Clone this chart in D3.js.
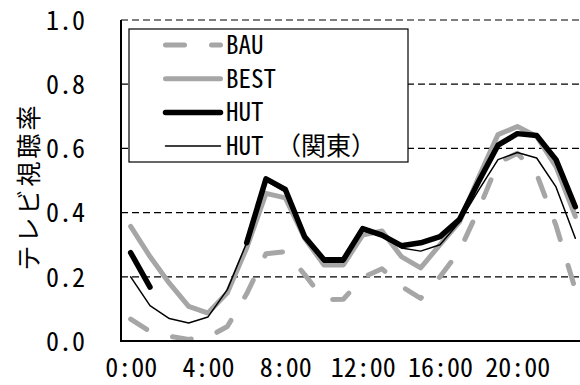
<!DOCTYPE html>
<html>
<head>
<meta charset="utf-8">
<script src="https://cdn.jsdelivr.net/npm/d3@7"></script>
<style>
  body { margin: 0; background: #fff; overflow: hidden; }
  svg { display: block; font-family: "Noto Sans Mono CJK JP", "Noto Sans CJK JP", sans-serif; }
</style>
</head>
<body>
<script>
// categories and values
var hours = ["0:00", "1:00", "2:00", "3:00", "4:00", "5:00", "6:00", "7:00", "8:00", "9:00", "10:00", "11:00",
    "12:00", "13:00", "14:00", "15:00", "16:00", "17:00", "18:00", "19:00", "20:00", "21:00", "22:00", "23:00"];
var xTicks = ["0:00", "4:00", "8:00", "12:00", "16:00", "20:00"];
var yTicks = [0, 0.2, 0.4, 0.6, 0.8, 1.0];

var bau = [0.068, 0.03, 0.015, 0.005, 0.012, 0.045, 0.147, 0.272, 0.278, 0.207, 0.129, 0.13,
    0.198, 0.225, 0.17, 0.133, 0.2, 0.28, 0.41, 0.555, 0.585, 0.52, 0.36, 0.16];
var best = [0.357, 0.263, 0.18, 0.108, 0.087, 0.15, 0.29, 0.46, 0.446, 0.32, 0.237, 0.237,
    0.33, 0.343, 0.263, 0.228, 0.3, 0.37, 0.51, 0.643, 0.668, 0.637, 0.543, 0.388];
var hut = [0.275, 0.168, null, null, null, null, 0.306, 0.505, 0.472, 0.325, 0.253, 0.253,
    0.35, 0.33, 0.297, 0.306, 0.325, 0.378, 0.497, 0.61, 0.646, 0.64, 0.565, 0.418];
var hutKanto = [0.2, 0.11, 0.07, 0.056, 0.075, 0.16, 0.306, 0.5, 0.465, 0.33, 0.245, 0.245,
    0.345, 0.325, 0.29, 0.28, 0.3, 0.37, 0.47, 0.565, 0.587, 0.57, 0.48, 0.32];

var seriesNames = ["BAU", "BEST", "HUT", "HUT （関東）"];
var seriesValues = [bau, best, hut, hutKanto];

(() => {
    var w = 580,
        h = 385;

    var margin = { top: 20, bottom: 44, left: 121, right: -5 };

    var svg = d3.select("body").append("svg").attr("width", w).attr("height", h);

    var x = d3.scalePoint().domain(hours)
        .range([margin.left, w - margin.right]).padding(0.5);
    var y = d3.scaleLinear().domain([0, 1]).range([h - margin.bottom, margin.top]);

    var styles = [
        { color: "#a6a6a6", width: 5, dash: "19,27" },
        { color: "#a6a6a6", width: 5, dash: null },
        { color: "#000", width: 5.5, dash: null },
        { color: "#000", width: 1.5, dash: null }
    ];

    // dashed gridlines
    svg.append("g").selectAll("line").data(yTicks.filter(d => d > 0)).enter()
        .append("line")
        .attr("x1", margin.left).attr("x2", w)
        .attr("y1", d => y(d)).attr("y2", d => y(d))
        .attr("stroke", "#000").attr("stroke-width", 1.2)
        .attr("stroke-dasharray", "7,4");

    var line = d3.line()
        .defined(d => d.v != null)
        .x(d => x(d.h)).y(d => y(d.v));

    seriesValues.forEach((vals, i) => {
        var pts = hours.map((hh, j) => ({ h: hh, v: vals[j] }));
        svg.append("path").datum(pts)
            .attr("d", line)
            .attr("fill", "none")
            .attr("stroke", styles[i].color)
            .attr("stroke-width", styles[i].width)
            .attr("stroke-linejoin", "round")
            .attr("stroke-linecap", "round")
            .attr("stroke-dasharray", styles[i].dash);
    });

    // axes
    var yAxis = d3.axisLeft(y).tickValues(yTicks).tickSize(0).tickPadding(36)
        .tickFormat(d3.format(".1f"));
    var xAxis = d3.axisBottom(x).tickValues(xTicks).tickSize(0).tickPadding(18);

    var yg = svg.append("g").attr("transform", "translate(" + margin.left + ",0)").call(yAxis);
    var xg = svg.append("g").attr("transform", "translate(0," + y(0) + ")").call(xAxis);

    [yg, xg].forEach(g => {
        g.attr("font-family", null).attr("font-size", null);
        g.select(".domain").remove();
        g.selectAll("text").attr("fill", "#000").style("font-size", "26px");
    });
    yg.selectAll("text").attr("dy", "0.36em");
    xg.selectAll("text").attr("dy", "0.71em");

    svg.append("line").attr("x1", margin.left).attr("x2", margin.left)
        .attr("y1", y(1)).attr("y2", y(0) + 1)
        .attr("stroke", "#000").attr("stroke-width", 2);
    svg.append("line").attr("x1", margin.left).attr("x2", w)
        .attr("y1", y(0)).attr("y2", y(0))
        .attr("stroke", "#000").attr("stroke-width", 2);

    svg.append("text")
        .attr("transform", "translate(" + [38, (y(0) + y(1)) / 2 + 6] + ")rotate(-90)")
        .attr("text-anchor", "middle")
        .style("font-size", "25px").style("letter-spacing", "3px")
        .text("テレビ視聴率");

    // legend
    var legend = svg.append("g").attr("transform", "translate(129,29)");
    legend.append("rect").attr("width", 279).attr("height", 133)
        .attr("fill", "#fff").attr("stroke", "#000").attr("stroke-width", 1.2);

    var item = legend.selectAll(".legend").data(seriesNames).enter()
        .append("g").attr("class", "legend")
        .attr("transform", (d, i) => "translate(0," + (16 + i * 33.7) + ")");

    item.append("line")
        .attr("x1", 36.5).attr("x2", 91.5)
        .attr("stroke", (d, i) => styles[i].color)
        .attr("stroke-width", (d, i) => styles[i].width)
        .attr("stroke-linecap", "round")
        .attr("stroke-dasharray", (d, i) => styles[i].dash);

    item.append("text").attr("x", 97).attr("dy", "0.36em")
        .style("font-size", "25px")
        .text(d => d);
})()
</script>
</body>
</html>
